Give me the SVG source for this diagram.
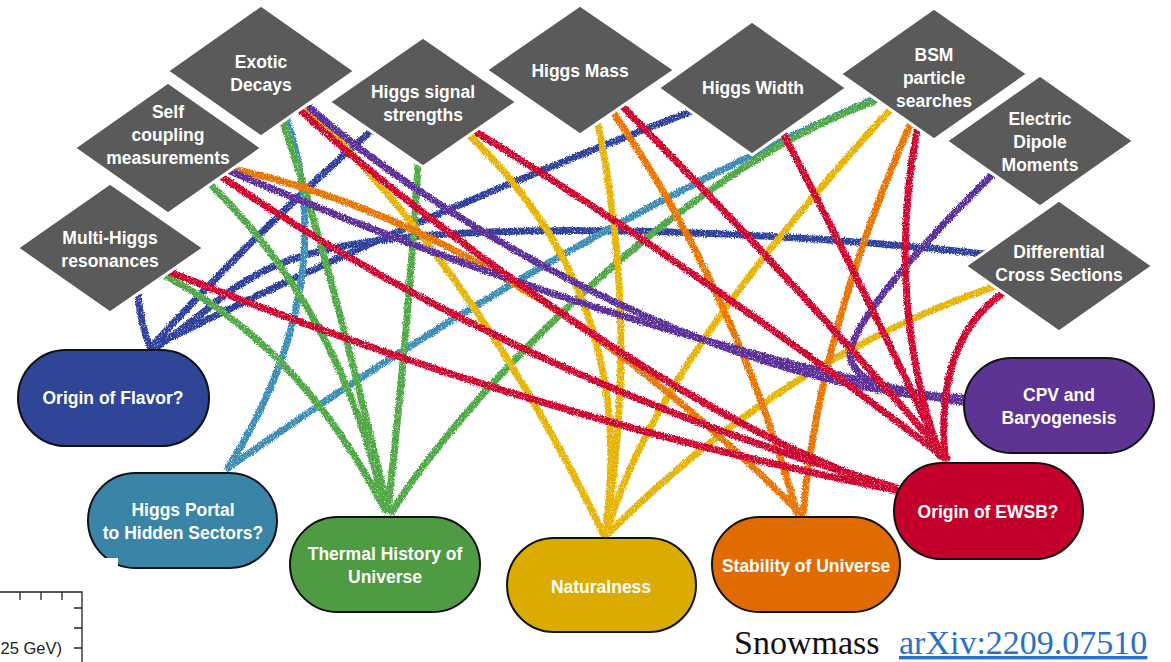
<svg xmlns="http://www.w3.org/2000/svg" width="1171" height="662" viewBox="0 0 1171 662">
<defs>
<style>
.dia{fill:#5a5a5a;stroke:#fff;stroke-width:3}
.dt{font-family:"Liberation Sans",Arial,sans-serif;font-weight:bold;font-size:17.5px;fill:#fff;text-anchor:middle}
.pill{stroke:#111;stroke-width:2}
.c{fill:none;stroke-width:7;stroke-linecap:round}
.blue{stroke:#2d4199}.steel{stroke:#3b8db5}.green{stroke:#4fa845}.gold{stroke:#e6b400}
.orange{stroke:#e97500}.red{stroke:#d0002f}.purple{stroke:#5c2f97}
.ax{stroke:#222;stroke-width:1.3;fill:none}
</style>
<filter id="crayon" x="-2%" y="-2%" width="104%" height="104%">
<feTurbulence type="fractalNoise" baseFrequency="0.9" numOctaves="2" seed="4" result="n"/>
<feDisplacementMap in="SourceGraphic" in2="n" scale="4" xChannelSelector="R" yChannelSelector="G" result="d"/>
<feTurbulence type="fractalNoise" baseFrequency="1.3" numOctaves="1" seed="9" result="g"/>
<feColorMatrix in="g" type="matrix" values="0 0 0 0 0  0 0 0 0 0  0 0 0 0 0  0 0 0 -4 3.3" result="ga"/>
<feComposite in="d" in2="ga" operator="in"/>
</filter>
</defs>
<rect width="1171" height="662" fill="#fff"/>

<g id="connectors" filter="url(#crayon)">
<path class="c blue" d="M138,296 Q141,325 150,347"/>
<path class="c blue" d="M370,132 Q263,225 152,346"/>
<path class="c blue" d="M692,111 Q416,216 155,345"/>
<path class="c blue" d="M985,254 C800,234 560,222 400,238 S230,300 155,348"/>
<path class="c steel" d="M287,120 Q342,286 228,468"/>
<path class="c steel" d="M872,100 Q550,240 228,468"/>
<path class="c green" d="M166,276 Q304,350 385,510"/>
<path class="c green" d="M210,184 Q342,313 385,510"/>
<path class="c green" d="M283,122 Q330,260 388,510"/>
<path class="c green" d="M418,166 Q408,330 388,510"/>
<path class="c green" d="M875,101 C680,170 460,400 392,512"/>
<path class="c gold" d="M305,108 Q470,260 604,535"/>
<path class="c gold" d="M470,136 Q640,300 605,535"/>
<path class="c gold" d="M598,124 Q640,330 605,535"/>
<path class="c gold" d="M890,110 Q652,368 606,535"/>
<path class="c gold" d="M993,287 Q780,360 607,535"/>
<path class="c orange" d="M233,169 Q523,233 800,513"/>
<path class="c orange" d="M613,112 Q735,290 797,513"/>
<path class="c orange" d="M910,125 Q820,330 803,513"/>
<path class="c purple" d="M310,108 C420,205 700,385 965,400"/>
<path class="c purple" d="M230,171 Q600,330 965,403"/>
<path class="c purple" d="M993,174 Q860,305 850,352 Q848,392 963,398"/>
<path class="c red" d="M170,272 Q540,420 895,490"/>
<path class="c red" d="M222,177 Q520,380 895,487"/>
<path class="c red" d="M300,110 C420,220 700,430 897,490"/>
<path class="c red" d="M476,132 Q700,270 945,458"/>
<path class="c red" d="M623,107 Q780,265 947,458"/>
<path class="c red" d="M783,133 Q870,300 942,456"/>
<path class="c red" d="M917,130 Q885,300 940,456"/>
<path class="c red" d="M1003,293 Q935,340 945,458"/>
</g>

<g id="multi-higgs"><polygon class="dia" points="110,183 204,248 110,313 17,248"/><text class="dt" x="110" y="244">Multi-Higgs</text><text class="dt" x="110" y="267">resonances</text></g>
<g id="self-coupling"><polygon class="dia" points="168,82 262,148 168,214 74,148"/><text class="dt" x="168" y="118">Self</text><text class="dt" x="168" y="141">coupling</text><text class="dt" x="168" y="164">measurements</text></g>
<g id="exotic-decays"><polygon class="dia" points="261,5 355,71 261,137 167,71"/><text class="dt" x="261" y="68">Exotic</text><text class="dt" x="261" y="91">Decays</text></g>
<g id="higgs-signal"><polygon class="dia" points="423,37 517,102 423,167 329,102"/><text class="dt" x="423" y="98">Higgs signal</text><text class="dt" x="423" y="121">strengths</text></g>
<g id="higgs-mass"><polygon class="dia" points="580,5 675,70 580,135 486,70"/><text class="dt" x="580" y="77">Higgs Mass</text></g>
<g id="higgs-width"><polygon class="dia" points="752,21 847,88 752,155 658,88"/><text class="dt" x="753" y="94">Higgs Width</text></g>
<g id="bsm"><polygon class="dia" points="934,8 1028,74 934,140 840,74"/><text class="dt" x="934" y="61">BSM</text><text class="dt" x="934" y="84">particle</text><text class="dt" x="934" y="107">searches</text></g>
<g id="edm"><polygon class="dia" points="1040,75 1134,141 1040,207 946,141"/><text class="dt" x="1040" y="125">Electric</text><text class="dt" x="1040" y="148">Dipole</text><text class="dt" x="1040" y="171">Moments</text></g>
<g id="diff-xs"><polygon class="dia" points="1059,200 1153,266 1059,332 965,266"/><text class="dt" x="1059" y="258">Differential</text><text class="dt" x="1059" y="281">Cross Sections</text></g>

<g id="origin-flavor"><rect class="pill" x="18" y="350" width="191" height="96" rx="48" fill="#2f4597"/><text class="dt" x="113" y="404">Origin of Flavor?</text></g>
<g id="higgs-portal"><rect class="pill" x="88" y="473" width="189" height="95" rx="47.5" fill="#3a84a8"/><text class="dt" x="183" y="516">Higgs Portal</text><text class="dt" x="183" y="539">to Hidden Sectors?</text><rect x="84" y="558" width="34" height="14" fill="#fff"/></g>
<g id="thermal"><rect class="pill" x="290" y="517" width="190" height="95" rx="47.5" fill="#4e9b43"/><text class="dt" x="385" y="560">Thermal History of</text><text class="dt" x="385" y="583">Universe</text></g>
<g id="naturalness"><rect class="pill" x="507" y="538" width="189" height="94" rx="47" fill="#dbab00"/><text class="dt" x="601" y="593">Naturalness</text></g>
<g id="stability"><rect class="pill" x="712" y="517" width="188" height="95" rx="47.5" fill="#e06b00"/><text class="dt" x="806" y="572">Stability of Universe</text></g>
<g id="ewsb"><rect class="pill" x="894" y="463" width="189" height="96" rx="48" fill="#c3002c"/><text class="dt" x="988" y="518">Origin of EWSB?</text></g>
<g id="cpv"><rect class="pill" x="964" y="358" width="190" height="95" rx="47.5" fill="#5d3393"/><text class="dt" x="1059" y="401">CPV and</text><text class="dt" x="1059" y="424">Baryogenesis</text></g>

<g id="plot-fragment">
<path class="ax" d="M0,592 H82 V662 M20,592 V600 M41,592 V600 M62,592 V600 M82,608 H74 M82,628 H74 M82,648 H74"/>
<text x="62" y="654" font-family="Liberation Sans,Arial,sans-serif" font-size="16.5" fill="#222" text-anchor="end">25 GeV)</text>
</g>
<g id="caption">
<text x="734" y="654" font-family="Liberation Serif,Times New Roman,serif" font-size="34" fill="#111">Snowmass</text>
<text x="899" y="654" font-family="Liberation Serif,Times New Roman,serif" font-size="34" fill="#2a6fc9" text-decoration="underline">arXiv:2209.07510</text>
</g>
</svg>
